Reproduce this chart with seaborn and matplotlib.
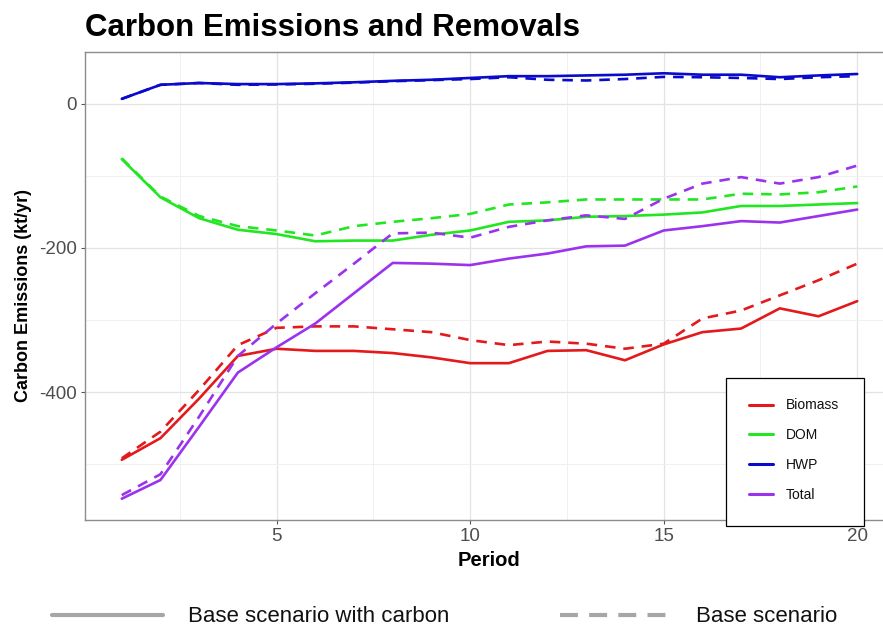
import numpy as np
import pandas as pd
import seaborn as sns
import matplotlib
matplotlib.use("Agg")
import matplotlib.pyplot as plt
from matplotlib.lines import Line2D
from matplotlib.patches import Rectangle

sns.set_theme(style="white")
plt.rcParams["font.family"] = ["Liberation Sans", "DejaVu Sans"]
plt.rcParams["axes.unicode_minus"] = False

# ---------------- data ----------------
periods = list(range(1, 21))
pools = ["Biomass", "DOM", "HWP", "Total"]
scenarios = ["Base scenario with carbon", "Base scenario"]

biomass_carbon = [-494, -464, -409, -350, -340, -343, -343, -346, -352, -360,
                  -360, -343, -342, -356, -334, -317, -312, -284, -295, -274]
biomass_base = [-492, -455, -397, -335, -311, -309, -309, -313, -317, -328,
                -335, -330, -333, -340, -333, -298, -287, -266, -245, -222]
dom_carbon = [-77, -130, -159, -175, -181, -191, -190, -190, -182, -176,
              -164, -162, -157, -156, -154, -151, -142, -142, -140, -138]
dom_base = [-76, -129, -156, -170, -176, -183, -170, -164, -159, -153,
            -140, -137, -133, -133, -133, -133, -125, -126, -123, -115]
hwp_carbon = [6.5, 26, 28.5, 27, 27, 28, 29.5, 31.5, 33, 35.5,
              38, 38, 39, 40, 42, 40, 40, 36.5, 39, 41]
hwp_base = [6.5, 26, 28.5, 26, 26.5, 27.5, 29, 31, 32.5, 34,
            36.5, 33, 32, 34, 37, 36.5, 35.5, 34, 36.5, 38]
total_carbon = [-548, -522, -448, -373, -338, -305, -263, -221, -222, -224,
                -215, -208, -198, -197, -176, -170, -163, -165, -156, -147]
total_base = [-543, -514, -434, -350, -305, -263, -222, -180, -179, -186,
              -171, -162, -155, -160, -132, -111, -102, -111, -102, -86]

colors = {"Biomass": "#E3191C", "DOM": "#22E622", "HWP": "#0A0ACD", "Total": "#9A32EE"}

series = {
    ("Biomass", scenarios[0]): biomass_carbon, ("Biomass", scenarios[1]): biomass_base,
    ("DOM", scenarios[0]): dom_carbon, ("DOM", scenarios[1]): dom_base,
    ("HWP", scenarios[0]): hwp_carbon, ("HWP", scenarios[1]): hwp_base,
    ("Total", scenarios[0]): total_carbon, ("Total", scenarios[1]): total_base,
}
rows = []
for (pool, scen), vals in series.items():
    for p, v in zip(periods, vals):
        rows.append((p, v, pool, scen))
df = pd.DataFrame(rows, columns=["Period", "Emissions", "Pool", "Scenario"])

# ---------------- figure ----------------
W, H = 883, 630
fig = plt.figure(figsize=(W / 100, H / 100), dpi=100)
fig.patch.set_facecolor("white")
left, right, top, bottom = 85, 894, 52, 520
ax = fig.add_axes([left / W, (H - bottom) / H, (right - left) / W, (bottom - top) / H])

sns.lineplot(data=df, x="Period", y="Emissions", hue="Pool", style="Scenario",
             hue_order=pools, style_order=scenarios, palette=colors,
             dashes={scenarios[0]: "", scenarios[1]: (4, 3)},
             linewidth=1.9, estimator=None, sort=False, legend=False, ax=ax)

ymin = min(min(v) for v in series.values())
ymax = max(max(v) for v in series.values())
pad = 0.05 * (ymax - ymin)
ax.set_xlim(1 - 0.95, 20 + 0.95)
ax.set_ylim(ymin - pad, ymax + pad)

ax.set_xticks([5, 10, 15, 20])
ax.set_xticks([2.5, 7.5, 12.5, 17.5], minor=True)
ax.set_yticks([0, -200, -400])
ax.set_yticks([-100, -300, -500], minor=True)
ax.grid(which="major", color="#E3E3E3", linewidth=0.9)
ax.grid(which="minor", color="#F0F0F0", linewidth=0.7)
ax.set_axisbelow(True)

for s in ["left", "bottom", "top"]:
    ax.spines[s].set_color("#8C8C8C")
    ax.spines[s].set_linewidth(1.0)
ax.spines["right"].set_visible(False)

ax.tick_params(which="major", length=3, width=0.8, color="#555555",
               labelsize=13.5, labelcolor="#4D4D4D", pad=3)
ax.tick_params(which="minor", length=0)
ax.tick_params(axis="both", which="both", bottom=True, left=True)

ax.set_xlabel("Period", fontsize=14.5, fontweight="bold", color="black")
ax.set_ylabel("Carbon Emissions (kt/yr)", fontsize=13, fontweight="bold", color="black")
ax.xaxis.set_label_coords(0.5, (H - 551 - (H - bottom)) / (bottom - top))
ax.yaxis.set_label_coords((32 - left) / (right - left), (H - 296 - (H - bottom)) / (bottom - top))

ax.set_title("Carbon Emissions and Removals", loc="left", fontsize=22.5,
             fontweight="bold", pad=11.5, color="black")

# inside legend (colour)
fig.add_artist(Rectangle((726 / W, (H - 526) / H), 138 / W, 148 / H,
                         transform=fig.transFigure, facecolor="white",
                         edgecolor="black", linewidth=0.9, zorder=3))
h_col = [Line2D([], [], color=colors[p], lw=2.2) for p in pools]
fig.legend(h_col, pools, loc="upper left",
           bbox_to_anchor=(749 / W, (H - 398.5) / H), frameon=False,
           fontsize=10, handlelength=1.75, handletextpad=0.9,
           labelspacing=1.14, borderpad=0, borderaxespad=0, labelcolor="#111111")

# bottom legend (line type)
h_ls = [Line2D([], [], color="#A6A6A6", lw=3),
        Line2D([], [], color="#A6A6A6", lw=3, dashes=(4.3, 2.7))]
fig.legend(h_ls, scenarios, loc="center left",
           bbox_to_anchor=(52 / W, (H - 617) / H), ncol=2, frameon=False,
           fontsize=16, handlelength=5, handletextpad=1.1,
           columnspacing=5.0, borderpad=0, borderaxespad=0, labelcolor="#111111")

fig.savefig("out.png", dpi=100, facecolor="white")
